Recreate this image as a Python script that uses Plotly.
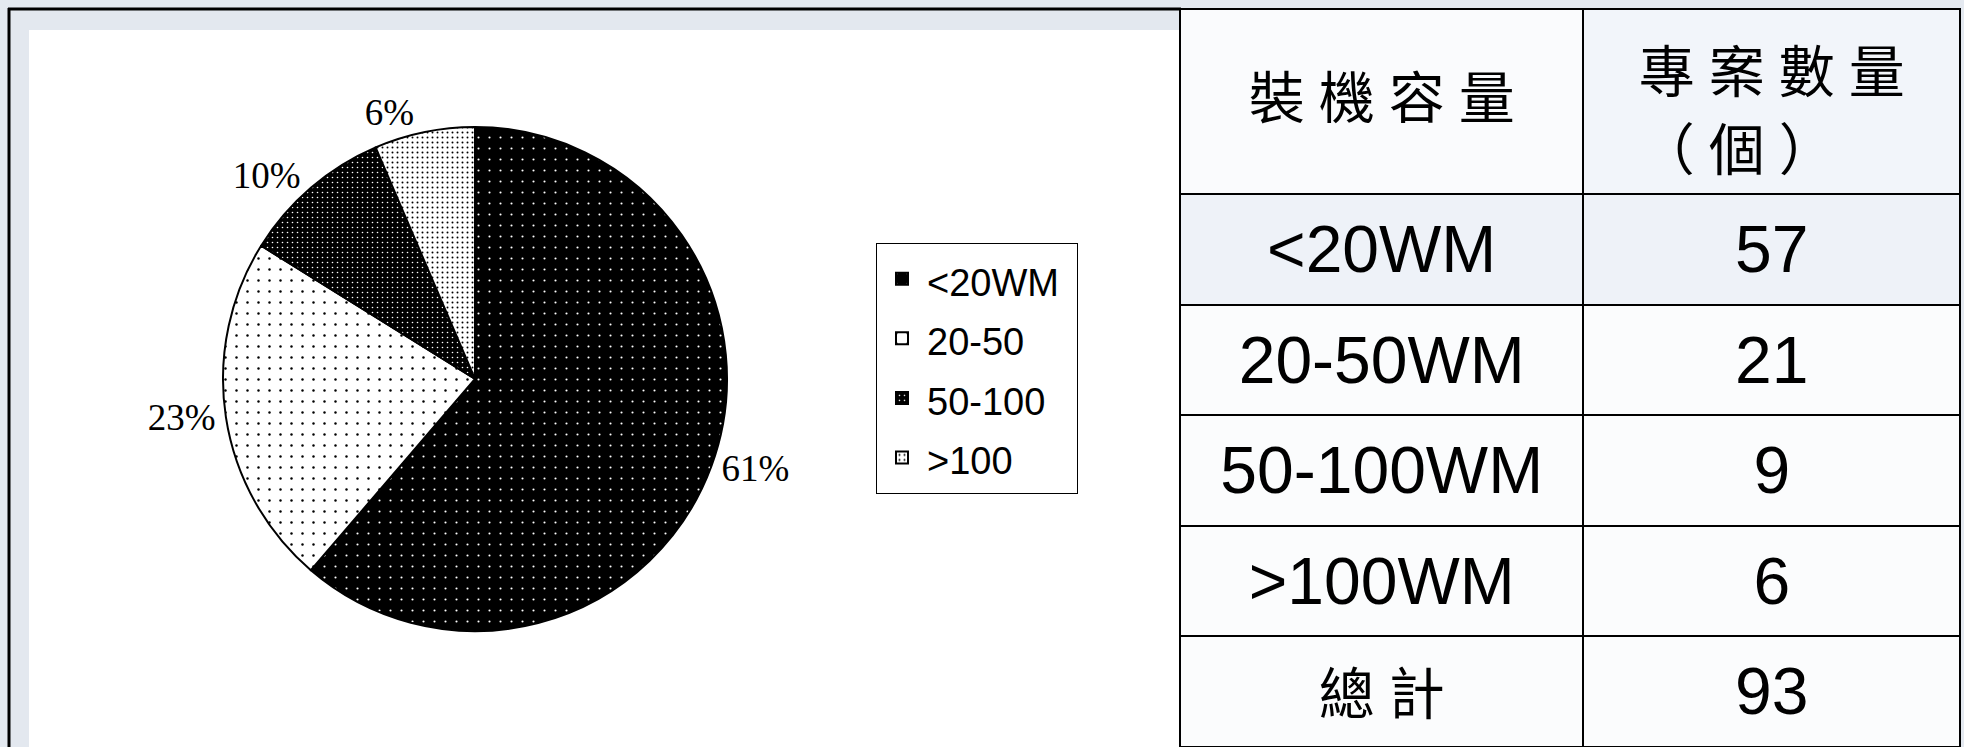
import plotly.graph_objects as go

# ---------------- data ----------------
categories = ["<20WM", "20-50", "50-100", ">100"]
project_counts = [57, 21, 9, 6]
table_categories = ["<20WM", "20-50WM", "50-100WM", ">100WM"]
total_label = "總計"
header_labels = ["裝機容量", "專案數量<br>（個）"]

# ---------------- layout helpers ----------------
W, H = 1964, 747


def fx(x):
    return x / W


def fy(y):
    return 1 - y / H


def esc(s):
    return s.replace("<", "&lt;").replace(">", "&gt;")


def spaced(s):
    # small gap between CJK characters
    if all(ord(c) > 0x2E80 for c in s):
        return "\u2005".join(list(s))
    return s


def big(text, size):
    return f"<span style='font-size:{size}px'>{text}</span>"


def cell_block(lines, size, lead, gap):
    """Vertically place big text lines inside a table cell using spacer lines."""
    out = ["&nbsp;"] * lead
    for i, ln in enumerate(lines):
        if i > 0:
            out += ["&nbsp;"] * (gap - 1)
        out.append(big(ln, size))
    return "<br>".join(out)


legend_names = [big(esc(c), 38) + "&nbsp;" for c in categories]

pie = go.Pie(
    labels=legend_names,
    values=project_counts,
    sort=False,
    direction="clockwise",
    rotation=0,
    texttemplate="%{percent:.0%}",
    textposition="outside",
    outsidetextfont=dict(family="Liberation Serif", size=37, color="black"),
    marker=dict(
        colors=["black", "white", "black", "white"],
        line=dict(color="black", width=2),
        pattern=dict(
            shape=".",
            bgcolor=["black", "white", "black", "white"],
            fgcolor=["white", "black", "white", "black"],
            size=[11, 11, 5, 5],
            solidity=[0.03, 0.04, 0.08, 0.12],
        ),
    ),
    domain=dict(x=[fx(223), fx(727)], y=[fy(631), fy(127)]),
    showlegend=True,
)

# header cells
hdr_left = cell_block([spaced(header_labels[0])], 56, 3, 3)
hdr_right = cell_block([spaced(p) for p in header_labels[1].split("<br>")], 56, 2, 3)

col0 = [cell_block([esc(c)], 66, 2, 3) for c in table_categories] + [cell_block([spaced(total_label)], 56, 2, 3)]
col1 = [cell_block([str(v)], 66, 2, 3) for v in project_counts] + [cell_block([str(sum(project_counts))], 66, 2, 3)]

table = go.Table(
    domain=dict(x=[fx(1180), fx(1961)], y=[0, fy(9)]),
    columnwidth=[404, 377],
    header=dict(
        values=[hdr_left, hdr_right],
        height=185,
        align="center",
        fill_color=["#fafbfd", "#f2f5fa"],
        line=dict(color="black", width=2),
        font=dict(family="Noto Sans CJK TC", size=20, color="black"),
    ),
    cells=dict(
        values=[col0, col1],
        height=110.6,
        align="center",
        fill_color=[["#eef2f8", "#fbfcfd", "#fbfcfd", "#fbfcfd", "#fbfcfd"]],
        line=dict(color="black", width=2),
        font=dict(family="Liberation Sans, Noto Sans CJK TC", size=20, color="black"),
    ),
)

fig = go.Figure([pie, table])

shapes = [
    # pale frame band of the left panel
    dict(type="rect", xref="paper", yref="paper", x0=fx(9), x1=fx(1180), y0=fy(760), y1=fy(9),
         fillcolor="#e3e8ef", line=dict(width=0), layer="below"),
    # white drawing area
    dict(type="rect", xref="paper", yref="paper", x0=fx(29), x1=fx(1179), y0=fy(760), y1=fy(30),
         fillcolor="white", line=dict(width=0), layer="below"),
    # outer border
    dict(type="line", xref="paper", yref="paper", x0=fx(9), x1=fx(9), y0=fy(760), y1=fy(8),
         line=dict(color="black", width=3), layer="below"),
    dict(type="line", xref="paper", yref="paper", x0=fx(8), x1=fx(1181), y0=fy(9), y1=fy(9),
         line=dict(color="black", width=3), layer="below"),
]

fig.update_layout(
    width=W,
    height=H,
    margin=dict(l=0, r=0, t=0, b=0),
    paper_bgcolor="#e4e9f0",
    plot_bgcolor="white",
    shapes=shapes,
    legend=dict(
        x=fx(876), y=fy(243), xanchor="left", yanchor="top",
        bgcolor="white", bordercolor="black", borderwidth=1,
        font=dict(family="Liberation Sans", size=43.5, color="black"),
        itemwidth=40,
        traceorder="normal",
    ),
)

fig.write_html("out.html")
